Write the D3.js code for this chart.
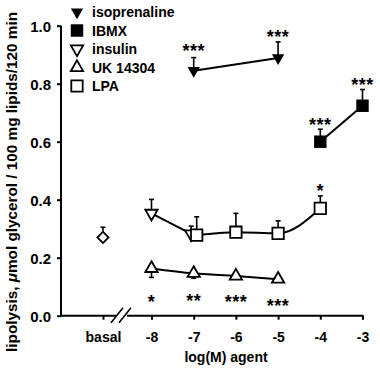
<!DOCTYPE html>
<html><head><meta charset="utf-8">
<script src="https://cdn.jsdelivr.net/npm/d3@7"></script>
<style>
body{margin:0;background:#fff;}
text{font-family:"Liberation Sans",Arial,sans-serif;font-weight:bold;fill:#000;}
</style></head>
<body>
<svg id="chart" width="380" height="368"></svg>
<script>
// ---- data ----
const xTicks = [-8, -7, -6, -5, -4, -3];
const basalValue = 0.27, basalErr = 0.305;

const isoX = [-7, -5];
const isoY = [0.845, 0.889];
const isoErr = [0.89, 0.944];
const isoStars = ["***", "***"];
const isoStarY = [0.927, 0.975];

const ibmxX = [-4, -3];
const ibmxY = [0.60, 0.724];
const ibmxErr = [0.643, 0.78];
const ibmxStars = ["***", "***"];
const ibmxStarY = [0.671, 0.81];

const insX = [-8, -7];
const insY = [0.353, 0.282];
const insErr = [0.401, 0.309];

const ukX = [-8, -7, -6, -5];
const ukY = [0.163, 0.146, 0.137, 0.126];
const ukErr = [0.132, 0.129, 0.137, 0.126];
const ukStars = ["*", "**", "***", "***"];
const ukStarY = [0.062, 0.066, 0.061, 0.047];

const lpaX = [-7, -6, -5, -4];
const lpaY = [0.278, 0.288, 0.284, 0.37];
const lpaErr = [0.341, 0.353, 0.327, 0.413];
const lpaStars = ["", "", "", "*"];
const lpaStarY = [0, 0, 0, 0.443];

const yTicks = [0.0, 0.2, 0.4, 0.6, 0.8, 1.0];
const legendLabels = ["isoprenaline", "IBMX", "insulin", "UK 14304", "LPA"];

// ---- layout ----
const svg = d3.select("#chart");
const BASAL = -9.15; // axis position of basal
const x = d3.scaleLinear().domain([-8, -3]).range([151.5, 362.5]);
const y = d3.scaleLinear().domain([0, 1]).range([315.7, 25.7]);
const axisX0 = 61;

// y axis
const yAxis = svg.append("g").attr("transform", `translate(${axisX0},0)`)
  .call(d3.axisLeft(y).tickValues(yTicks).tickFormat(d3.format(".1f")).tickSize(4).tickPadding(6));
yAxis.select(".domain").attr("stroke-width", 2).attr("d", `M0,${y(1)}V${y(0)}`);
yAxis.selectAll(".tick line").attr("stroke-width", 2);
yAxis.selectAll(".tick text").style("font-size", "15px").style("font-family", "Liberation Sans, Arial, sans-serif").style("font-weight", "bold").attr("dy", "0.4em");

// x axis
const xAxis = svg.append("g").attr("transform", `translate(0,${y(0)})`)
  .call(d3.axisBottom(x).tickValues([BASAL, ...xTicks])
    .tickFormat(d => d === BASAL ? "basal" : String(d)).tickSize(4).tickPadding(12));
xAxis.select(".domain").remove();
xAxis.selectAll(".tick line").attr("stroke-width", 2);
xAxis.selectAll(".tick text").style("font-size", "14px").style("font-family", "Liberation Sans, Arial, sans-serif").style("font-weight", "bold");
xAxis.append("path").attr("d", `M${axisX0 - 1},0H116M127,0H${x(-3) + 1}`).attr("stroke", "#000").attr("stroke-width", 2).attr("fill", "none");
xAxis.append("path").attr("d", "M111,7L123,-8M119,7L131,-8").attr("stroke", "#000").attr("stroke-width", 1.6).attr("fill", "none");

svg.append("text").attr("x", 226).attr("y", 362).attr("text-anchor", "middle").style("font-size", "14px").text("log(M) agent");

const yl = svg.append("text").attr("transform", "translate(17,182) rotate(-90)").attr("text-anchor", "middle").style("font-size", "15.3px");
yl.append("tspan").text("lipolysis, ");
yl.append("tspan").style("font-style", "italic").text("μ");
yl.append("tspan").text("mol glycerol / 100 mg lipids/120 min");

// ---- marks ----
const g = svg.append("g");
const DODGE_INS = -2.5, DODGE_LPA = 3;
const dodge = (v, d) => (v === -7 ? d : 0);
const line = (dx) => d3.line().x(d => x(d[0]) + dodge(d[0], dx)).y(d => y(d[1])).curve(d3.curveMonotoneX);
const zip = (xs, ys) => xs.map((v, i) => [v, ys[i]]);

function errorBars(xs, ys, es, dx) {
  xs.forEach((v, i) => {
    const cx = x(v) + dodge(v, dx || 0);
    g.append("line").attr("x1", cx).attr("x2", cx).attr("y1", y(ys[i])).attr("y2", y(es[i])).attr("stroke", "#000").attr("stroke-width", 1.6);
    if (Math.abs(es[i] - ys[i]) > 0.01)
      g.append("line").attr("x1", cx - 2.5).attr("x2", cx + 2.5).attr("y1", y(es[i])).attr("y2", y(es[i])).attr("stroke", "#000").attr("stroke-width", 1.6);
  });
}
function stars(xs, labels, ys) {
  xs.forEach((v, i) => {
    if (!labels[i]) return;
    g.append("text").attr("x", x(v)).attr("y", y(ys[i]) + 10).attr("text-anchor", "middle")
      .style("font-size", "18px").style("letter-spacing", "0.5px").text(labels[i]);
  });
}
const triUp = d3.symbol().type(d3.symbolTriangle).size(66);
const sq = d3.symbol().type(d3.symbolSquare).size(155);
const sqOpen = d3.symbol().type(d3.symbolSquare).size(130);
function marker(kind, cx, cy) {
  let p;
  if (kind === "triDown") p = g.append("path").attr("d", triUp()).attr("transform", `translate(${cx},${cy}) rotate(180)`);
  else if (kind === "triUp") p = g.append("path").attr("d", triUp()).attr("transform", `translate(${cx},${cy})`);
  else if (kind === "square") p = g.append("path").attr("d", sq()).attr("transform", `translate(${cx},${cy})`);
  else if (kind === "squareOpen") p = g.append("path").attr("d", sqOpen()).attr("transform", `translate(${cx},${cy})`);
  else if (kind === "diamond") p = g.append("path").attr("d", d3.symbol().type(d3.symbolSquare).size(62)()).attr("transform", `translate(${cx},${cy}) rotate(45)`);
  return p;
}

// error bars first
errorBars([BASAL], [basalValue], [basalErr]);
errorBars(isoX, isoY, isoErr);
errorBars(ibmxX, ibmxY, ibmxErr);
errorBars(insX, insY, insErr, DODGE_INS);
errorBars(ukX, ukY, ukErr);
errorBars(lpaX, lpaY, lpaErr, DODGE_LPA);

// lines
[[isoX, isoY, 0], [ibmxX, ibmxY, 0], [insX, insY, DODGE_INS], [ukX, ukY, 0], [lpaX, lpaY, DODGE_LPA]].forEach(([xs, ys, dx]) => {
  g.append("path").attr("d", line(dx)(zip(xs, ys))).attr("fill", "none").attr("stroke", "#000").attr("stroke-width", 2);
});

// markers
marker("diamond", x(BASAL), y(basalValue)).attr("fill", "#fff").attr("stroke", "#000").attr("stroke-width", 1.8);
isoX.forEach((v, i) => marker("triDown", x(v), y(isoY[i])).attr("fill", "#000"));
ibmxX.forEach((v, i) => marker("square", x(v), y(ibmxY[i])).attr("fill", "#000"));
insX.forEach((v, i) => marker("triDown", x(v) + dodge(v, DODGE_INS), y(insY[i])).attr("fill", "#fff").attr("stroke", "#000").attr("stroke-width", 1.8));
ukX.forEach((v, i) => marker("triUp", x(v), y(ukY[i])).attr("fill", "#fff").attr("stroke", "#000").attr("stroke-width", 1.8));
lpaX.forEach((v, i) => marker("squareOpen", x(v) + dodge(v, DODGE_LPA), y(lpaY[i])).attr("fill", "#fff").attr("stroke", "#000").attr("stroke-width", 1.8));

// stars
stars(isoX, isoStars, isoStarY);
stars(ibmxX, ibmxStars, ibmxStarY);
stars(ukX, ukStars, ukStarY);
stars(lpaX, lpaStars, lpaStarY);

// legend
const legKinds = [["triDown", "#000"], ["square", "#000"], ["triDown", "#fff"], ["triUp", "#fff"], ["squareOpen", "#fff"]];
legendLabels.forEach((lab, i) => {
  const cy = 12 + i * 18.5;
  const m = marker(legKinds[i][0], 77, cy).attr("fill", legKinds[i][1]);
  if (legKinds[i][1] === "#fff") m.attr("stroke", "#000").attr("stroke-width", 1.8);
  svg.append("text").attr("x", 92).attr("y", cy + 5).style("font-size", "14px").text(lab);
});
</script>
</body></html>
